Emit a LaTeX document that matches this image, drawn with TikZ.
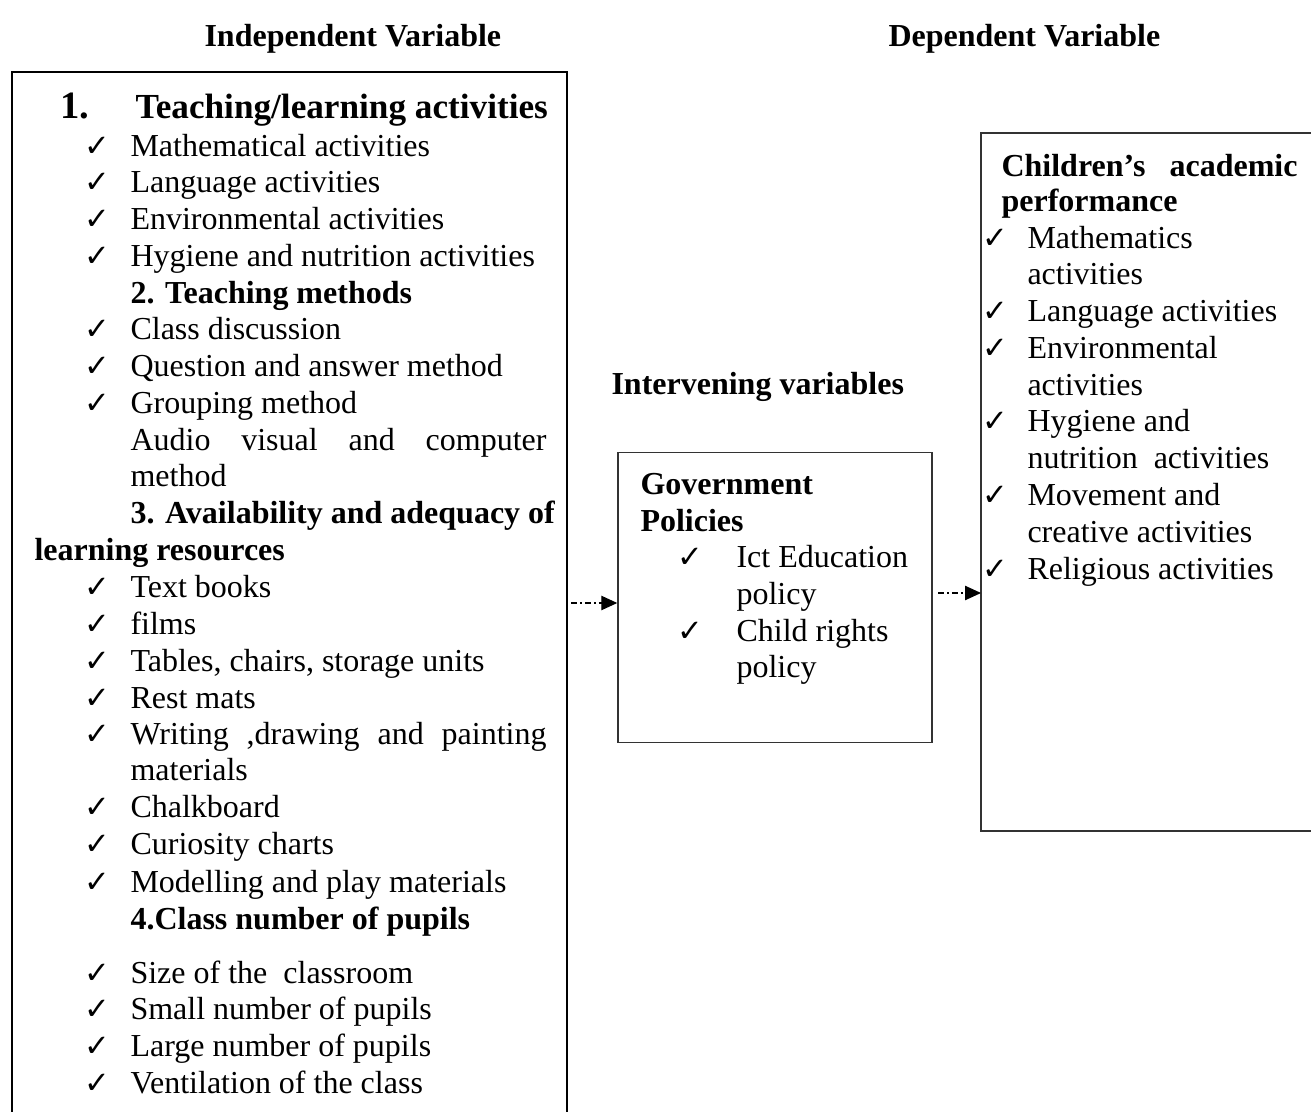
\documentclass[tikz,border=0pt]{standalone}
\usepackage{fontspec}
\setmainfont{Liberation Serif}
\newfontfamily\ckfont{DejaVu Sans}
\usetikzlibrary{arrows.meta}
\tikzset{
  txt/.style={anchor=base west, inner sep=0pt, font=\fontsize{12}{14}\selectfont},
  bld/.style={txt, font=\fontsize{12}{14}\selectfont\bfseries},
  hd/.style={txt, font=\fontsize{13.2}{15}\selectfont\bfseries},
  hdn/.style={txt, font=\fontsize{14.5}{16}\selectfont\bfseries},
  ck/.style={anchor=base west, inner sep=0pt, font=\ckfont\fontsize{11.5}{12}\selectfont},
  boxline/.style={draw=black, line width=0.75pt},
  thinbox/.style={draw=black!80, line width=0.55pt},
  flow/.style={draw=black, line width=0.45pt, dash pattern=on 2.2pt off 1.2pt on 0.6pt off 1.2pt, -{Triangle[length=6pt,width=5.4pt]}}
}
\begin{document}
\begin{tikzpicture}[x=0.375pt,y=-0.375pt]
\useasboundingbox (0,0) rectangle (1311,1112);
% boxes
\draw[boxline] (12,1112) -- (12,72) -- (567,72) -- (567,1112);
\node[thinbox, minimum width=117.75pt, minimum height=108.75pt, inner sep=0pt] (gov) at (775,597.5) {};
\draw[thinbox] (1311,133) -- (981,133) -- (981,831) -- (1311,831);
\coordinate (rb) at (981,593);
\begin{scope}[yshift=-1.1pt]
% titles
\node[bld] (tind) at (204,44) {Independent Variable};
\node[bld] (tdep) at (888,44) {Dependent Variable};
\node[bld] (tint) at (611,392) {Intervening variables};
% left box
\node[hdn] (h1n) at (60,116) {1.};
\node[hd] (h1) at (135,116) {Teaching/learning activities};
\foreach \y/\t [count=\i] in {154/Mathematical activities,190/Language activities,227/Environmental activities,264/Hygiene and nutrition activities}{
  \node[ck] (ca\i) at (84,\y) {✓};
  \node[txt] (la\i) at (130,\y) {\t};
}
\node[bld] (h2) at (130,301) {2. Teaching methods};
\foreach \y/\t [count=\i] in {337/Class discussion,374/Question and answer method,411/Grouping method}{
  \node[ck] (cb\i) at (84,\y) {✓};
  \node[txt] (lb\i) at (130,\y) {\t};
}
\node[txt] (lb4) at (130,448) {\hbox to 156pt{Audio\hfill visual\hfill and\hfill computer}};
\node[txt] (lb5) at (130,484) {method};
\node[bld] (h3) at (130,521) {3. Availability and adequacy of};
\node[bld] (h3b) at (34,558) {learning resources};
\foreach \y/\t [count=\i] in {595/Text books,632/films,669/{Tables, chairs, storage units},706/Rest mats}{
  \node[ck] (cc\i) at (84,\y) {✓};
  \node[txt] (lc\i) at (130,\y) {\t};
}
\node[ck] (cc5) at (84,742) {✓};
\node[txt] (lc5) at (130,742) {\hbox to 156pt{Writing\hfill ,drawing\hfill and\hfill painting}};
\node[txt] (lc5b) at (130,778) {materials};
\foreach \y/\t [count=\i from 6] in {815/Chalkboard,852/Curiosity charts,890/Modelling and play materials}{
  \node[ck] (cc\i) at (84,\y) {✓};
  \node[txt] (lc\i) at (130,\y) {\t};
}
\node[bld] (h4) at (130,927) {4.Class number of pupils};
\foreach \y/\t [count=\i] in {981/Size of the\ \ classroom,1017/Small number of pupils,1054/Large number of pupils,1091/Ventilation of the class}{
  \node[ck] (cd\i) at (84,\y) {✓};
  \node[txt] (ld\i) at (130,\y) {\t};
}
% middle box text
\node[bld] (g1) at (640,492) {Government};
\node[bld] (g2) at (640,529) {Policies};
\node[ck] (gc1) at (677,565) {✓};
\node[txt] (gl1) at (736,565) {Ict Education};
\node[txt] (gl1b) at (736,602) {policy};
\node[ck] (gc2) at (677,639) {✓};
\node[txt] (gl2) at (736,639) {Child rights};
\node[txt] (gl2b) at (736,675) {policy};
% right box text
\node[bld] (r1) at (1001,174) {\hbox to 111pt{Children’s\hfill academic}};
\node[bld] (r2) at (1001,209) {performance};
\foreach \y/\t [count=\i] in {246/Mathematics,319/Language activities,356/Environmental,429/Hygiene and,503/Movement and,577/Religious activities}{
  \node[ck] (rc\i) at (982,\y) {✓};
  \node[txt] (rl\i) at (1027,\y) {\t};
}
\node[txt] (rl1b) at (1027,282) {activities};
\node[txt] (rl3b) at (1027,393) {activities};
\node[txt] (rl4b) at (1027,466) {nutrition\ \ activities};
\node[txt] (rl5b) at (1027,540) {creative activities};
\end{scope}
% connectors
\coordinate (ls) at (571,603);
\coordinate (ms) at (938,593);
\draw[flow] (ls) -- (gov.west |- ls);
\draw[flow] (ms) -- (rb);
\end{tikzpicture}
\end{document}
